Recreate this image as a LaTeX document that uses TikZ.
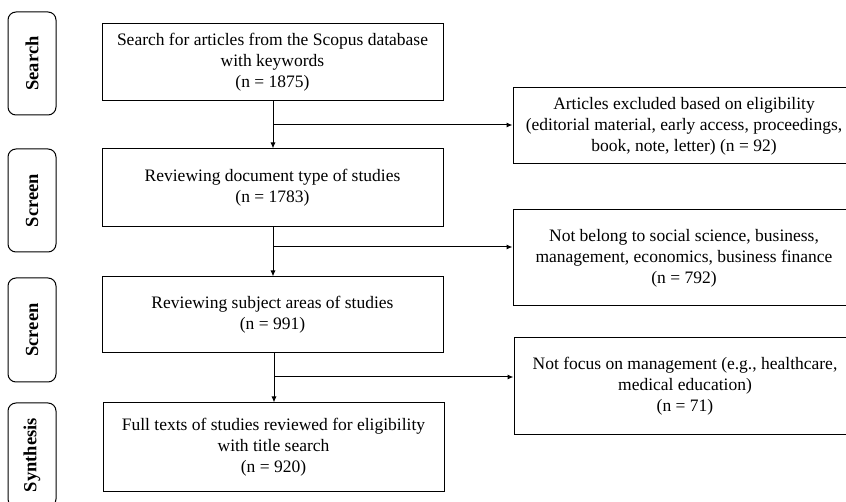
\documentclass[tikz,border=0pt]{standalone}
\usepackage{fontspec}
\setmainfont{Liberation Serif}
\usetikzlibrary{arrows.meta,positioning,calc}

\begin{document}
\begin{tikzpicture}[x=1pt, y=-1pt, >={Latex[length=6pt,width=5pt]}, line width=1pt,
  font=\fontsize{17.5}{21}\selectfont,
  stage/.style={draw,rounded corners=8pt,rotate=90,minimum height=48pt,inner sep=0pt,font=\fontsize{18.5}{20}\selectfont\bfseries},
  flowbox/.style={draw,align=center,minimum width=341pt,inner sep=0pt},
  outbox/.style={draw,align=center,minimum width=342pt,inner sep=0pt}]
\useasboundingbox (0,0) rectangle (846,502);
\clip (0,0) rectangle (846,502);

% stages on the left
\node(search)[stage,minimum width=103pt] at (32,63.5) {Search};
\node(screenA)[stage,minimum width=103pt] at (32,200.5) {Screen};
\node(screenB)[stage,minimum width=104pt] at (32,330) {Screen};
\node(synthesis)[stage,minimum width=104pt] at (32,455) {Synthesis};

% main flow
\node(query)[flowbox,minimum height=77pt] at (272.5,62.5) {Search for articles from the Scopus database\\ with keywords\\ (n = 1875)};
\node(doctype)[flowbox,minimum height=78pt] at (272.5,188) {Reviewing document type of studies\\ (n = 1783)};
\node(subject)[flowbox,minimum height=76pt] at (272.5,315) {Reviewing subject areas of studies\\ (n = 991)};
\node(fulltext)[flowbox,minimum height=88pt] at (273.5,447) {Full texts of studies reviewed for eligibility\\ with title search\\ (n = 920)};

% excluded records
\node(exclA)[outbox,minimum height=76pt] at (684,126) {Articles excluded based on eligibility\\ (editorial material, early access, proceedings,\\ book, note, letter) (n = 92)};
\node(exclB)[outbox,minimum height=96pt] at (684,258) {Not belong to social science, business,\\ management, economics, business finance\\ (n = 792)};
\node(exclC)[outbox,minimum height=96pt] at (685,386) {Not focus on management (e.g., healthcare,\\ medical education)\\ (n = 71)};

\draw[->] (query.south -| 273,0) -- (doctype.north -| 273,0);
\draw[->] (doctype.south -| 273,0) -- (subject.north -| 273,0);
\draw[->] (subject.south -| 274,0) -- (fulltext.north -| 274,0);

\coordinate (splitA) at (273,125);
\coordinate (splitB) at (273,247);
\coordinate (splitC) at (274,377);
\draw[->] (splitA) -- (splitA -| exclA.west);
\draw[->] (splitB) -- (splitB -| exclB.west);
\draw[->] (splitC) -- (splitC -| exclC.west);
\end{tikzpicture}
\end{document}
